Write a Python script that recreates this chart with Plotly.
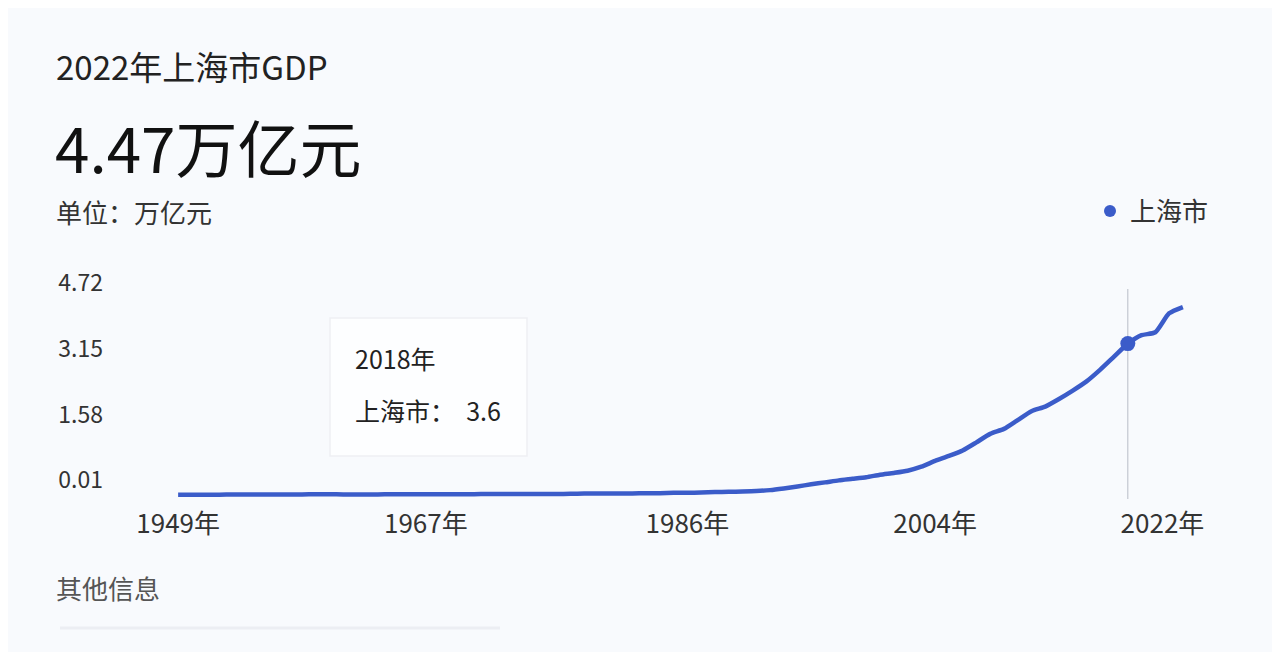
import plotly.graph_objects as go

# 上海市GDP（万亿元），1949-2022
years = list(range(1949, 2023))
gdp = [
    0.0020, 0.0024, 0.0030, 0.0037, 0.0051, 0.0053, 0.0055, 0.0065, 0.0072, 0.0100,
    0.0132, 0.0158, 0.0097, 0.0083, 0.0092, 0.0104, 0.0114, 0.0125, 0.0110, 0.0120,
    0.0139, 0.0157, 0.0165, 0.0172, 0.0187, 0.0191, 0.0199, 0.0204, 0.0220, 0.0273,
    0.0286, 0.0312, 0.0325, 0.0337, 0.0352, 0.0391, 0.0467, 0.0491, 0.0545, 0.0648,
    0.0697, 0.0782, 0.0894, 0.1114, 0.1519, 0.1991, 0.2499, 0.2958, 0.3439, 0.3801,
    0.4189, 0.4771, 0.5210, 0.5741, 0.6694, 0.8073, 0.9248, 1.0572, 1.2494, 1.4500,
    1.5700, 1.7800, 1.9900, 2.1000, 2.2800, 2.4800, 2.7000, 2.9800, 3.2900, 3.6000,
    3.8000, 3.8700, 4.3200, 4.4700,
]
x_ticks = [1949, 1967, 1986, 2004, 2022]
x_ticktext = ["1949年", "1967年", "1986年", "2004年", "2022年" + "\u00a0" * 7]
y_ticks = [0.01, 1.58, 3.15, 4.72]
hover_year = 2018
hover_value = gdp[years.index(hover_year)]

W, H = 1280, 652
OFF = 8  # 页面边距
# 绘图区在屏幕上的位置
sx0, sx1, sy0, sy1 = 174, 1187, 289, 499
L, T = sx0 - OFF, sy0 - OFF
R, B = W - (sx1 - OFF), H - (sy1 - OFF)
plot_w, plot_h = sx1 - sx0, sy1 - sy0

def px(x):
    return (x - sx0) / plot_w

def py(y):
    return (sy1 - y) / plot_h

font = "Noto Sans CJK SC"
blue = "#3b5cc9"
bg = "#f8fafd"

fig = go.Figure()
fig.add_trace(go.Scatter(
    x=years, y=gdp, mode="lines", line=dict(color=blue, width=4.5, shape="spline", smoothing=0.6),
    showlegend=False, hoverinfo="skip",
))
fig.add_trace(go.Scatter(
    x=[hover_year], y=[hover_value], mode="markers", name="上海市",
    marker=dict(color=blue, size=15), cliponaxis=False,
))

# 悬浮竖线
fig.add_shape(type="line", xref="x", yref="paper", x0=hover_year, x1=hover_year, y0=0, y1=1,
              line=dict(color="#b8bcc6", width=1), layer="below")

# 提示框
fig.add_shape(type="rect", xref="paper", yref="paper", x0=px(330), x1=px(527), y0=py(456), y1=py(318),
              fillcolor="#fdfeff", line=dict(color="#eef0f4", width=1.5), layer="below")
fig.add_annotation(xref="paper", yref="paper", x=px(353), y=py(358), xanchor="left", yanchor="middle",
                   text=f"{hover_year}年", showarrow=False, font=dict(family=font, size=25, color="#222"))
fig.add_annotation(xref="paper", yref="paper", x=px(353), y=py(410), xanchor="left", yanchor="middle",
                   text=f"上海市：  {hover_value:.1f}", showarrow=False, font=dict(family=font, size=25, color="#222"))

# 标题文字
fig.add_annotation(xref="paper", yref="paper", x=px(54), y=py(66), xanchor="left", yanchor="middle",
                   text="2022年上海市GDP", showarrow=False, font=dict(family=font, size=33, color="#222"))
fig.add_annotation(xref="paper", yref="paper", x=px(53), y=py(146), xanchor="left", yanchor="middle",
                   text="4.47万亿元", showarrow=False, font=dict(family=font, size=62, color="#111"))
fig.add_annotation(xref="paper", yref="paper", x=px(54), y=py(211), xanchor="left", yanchor="middle",
                   text="单位：万亿元", showarrow=False, font=dict(family=font, size=26, color="#333"))
fig.add_annotation(xref="paper", yref="paper", x=px(54), y=py(587), xanchor="left", yanchor="middle",
                   text="其他信息", showarrow=False, font=dict(family=font, size=26, color="#555"))
fig.add_shape(type="line", xref="paper", yref="paper", x0=px(60), x1=px(500), y0=py(628), y1=py(628),
              line=dict(color="#eceef3", width=3))

fig.update_layout(
    width=W, height=H,
    margin=dict(l=L, r=R, t=T, b=B),
    paper_bgcolor=bg, plot_bgcolor=bg,
    font=dict(family=font, color="#333"),
    legend=dict(x=px(1214), y=py(211), xanchor="right", yanchor="middle", itemsizing="constant",
                font=dict(family=font, size=26, color="#333"), bgcolor="rgba(0,0,0,0)"),
    xaxis=dict(range=[1948.7, 2022.3], tickvals=x_ticks, ticktext=x_ticktext, showgrid=False,
               zeroline=False, showline=False, ticks="", tickfont=dict(size=26, color="#333"),
               ticklabelstandoff=7),
    yaxis=dict(range=[-0.1, 4.9], tickvals=y_ticks, ticktext=[f"{v:.2f}" for v in y_ticks],
               showgrid=False, zeroline=False, showline=False, ticks="",
               tickfont=dict(size=23, color="#333"), ticklabelshift=-14, ticklabelstandoff=70),
)

fig.write_html("out.html")
